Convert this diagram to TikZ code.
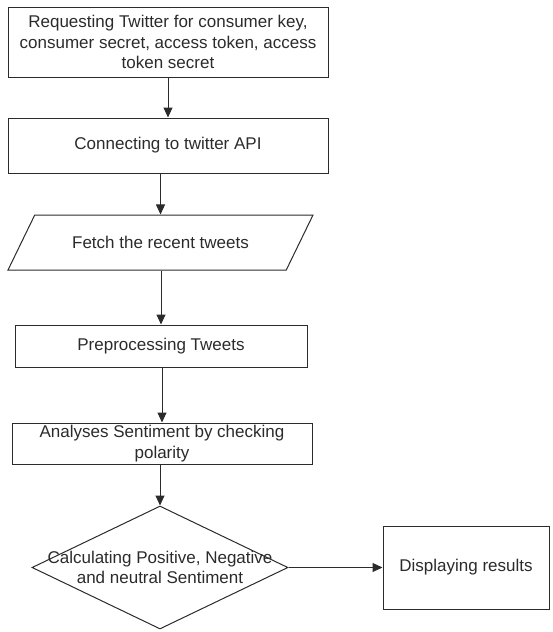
\documentclass[tikz,border=0pt]{standalone}
\usepackage{fontspec}
\setmainfont{Liberation Sans}
\usetikzlibrary{shapes.geometric,arrows.meta}
\definecolor{linegray}{HTML}{2B2B2B}
\tikzset{
	flowtext/.style={font=\fontsize{17}{20.5}\selectfont, text=linegray, align=center},
	procbox/.style={draw=linegray, line width=1pt, rectangle, inner sep=0pt, flowtext},
	iobox/.style={procbox, trapezium, trapezium left angle=63, trapezium right angle=117, trapezium stretches body, inner ysep=20pt},
	decision/.style={procbox, diamond},
	flowarrow/.style={draw=linegray, line width=1pt, -{Triangle[length=10pt,width=9pt]}},
}

\begin{document}
\begin{tikzpicture}[x=1pt,y=-1pt]
			%%%%% START %%%%%
			\useasboundingbox (0,0) rectangle (552,632);
			
			\node[procbox, minimum width=320, minimum height=70] (request) at (168,42) {Requesting Twitter for consumer key,\\consumer secret, access token, access\\token secret};
			\node[procbox, minimum width=320, minimum height=55] (connect) at (168,145.5) {Connecting to twitter API};
			\node[iobox, minimum width=305, minimum height=55] (fetch) at (160.5,242.5) {Fetch the recent tweets};
			\node[procbox, minimum width=292, minimum height=42] (preproc) at (161,346) {Preprocessing Tweets};
			\node[procbox, minimum width=300, minimum height=41] (analyse) at (162,443.5) {Analyses Sentiment by checking\\polarity};
			\node[decision, minimum width=256, minimum height=123,
				label={[flowtext]center:{Calculating Positive, Negative\\and neutral Sentiment}}] (calc) at (160,567.5) {};
			\node[procbox, minimum width=166, minimum height=83] (display) at (466,567.5) {Displaying results};
			
			\draw[flowarrow] (request.south -| connect.north) -- (connect.north);
			\draw[flowarrow] (connect.south -| fetch.north) -- (fetch.north);
			\draw[flowarrow] (fetch.south -| preproc.north) -- (preproc.north);
			\draw[flowarrow] (preproc.south -| analyse.north) -- (analyse.north);
			\draw[flowarrow] (analyse.south -| calc.north) -- (calc.north);
			\draw[flowarrow] (calc.east) -- (display.west);
			
			%%%%% END %%%%%
\end{tikzpicture}
\end{document}
